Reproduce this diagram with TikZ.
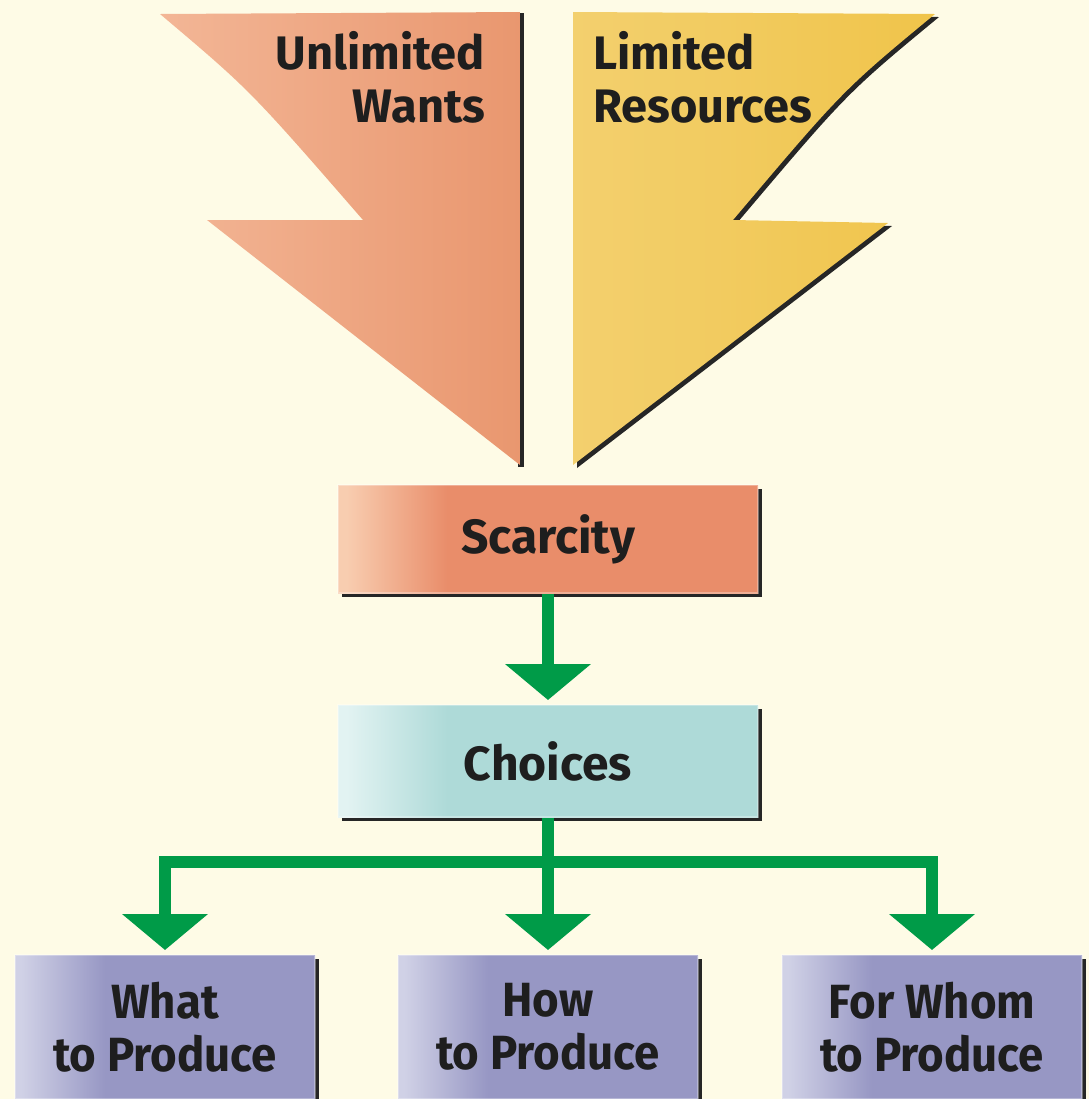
\documentclass[tikz,border=0pt]{standalone}
\usepackage{fontspec}
\setmainfont{Fira Sans}
\newfontfamily\narrowfont[FakeStretch=0.95]{Fira Sans}
\usetikzlibrary{arrows.meta,shadows}

\definecolor{paper}{HTML}{FEFBE6}
\definecolor{wantsLight}{HTML}{F3B696}
\definecolor{wantsBase}{HTML}{E9976F}
\definecolor{resBase}{HTML}{F0C44A}
\definecolor{scarLight}{HTML}{F8CDB0}
\definecolor{scarBase}{HTML}{E98D6A}
\definecolor{choiceLight}{HTML}{E2F3F2}
\definecolor{choiceBase}{HTML}{AEDAD8}
\definecolor{qLight}{HTML}{D0D1E6}
\definecolor{qBase}{HTML}{9797C4}
\definecolor{flowgreen}{HTML}{009B48}
\definecolor{ink}{HTML}{1E1E1E}

% the path covers 25bp to 75bp of each shading
\pgfdeclarehorizontalshading{scarshade}{100bp}{color(0bp)=(scarLight); color(26bp)=(scarLight); color(38bp)=(scarBase); color(100bp)=(scarBase)}
\pgfdeclarehorizontalshading{choiceshade}{100bp}{color(0bp)=(choiceLight); color(26bp)=(choiceLight); color(38bp)=(choiceBase); color(100bp)=(choiceBase)}
\pgfdeclarehorizontalshading{qshade}{100bp}{color(0bp)=(qLight); color(26bp)=(qLight); color(40bp)=(qBase); color(100bp)=(qBase)}

\tikzset{
    box/.style={draw=white, draw opacity=0.3, line width=1pt, text=ink,
        font=\bfseries\fontsize{24}{26.5}\selectfont,
        minimum width=210pt, minimum height=54pt, align=center,
        drop shadow={opacity=1, fill=black!85, shadow xshift=2pt, shadow yshift=-2pt}},
    question/.style={box, font=\narrowfont\bfseries\fontsize{24}{26.5}\selectfont,
        minimum width=150pt, minimum height=72pt, shading=qshade},
    flow/.style={draw=flowgreen, line width=6pt, -{Triangle[width=42pt,length=18pt]}, shorten >=2pt},
    bigarrow/.style={font=\bfseries\fontsize{23.5}{26.5}\selectfont, text=ink},
}

\begin{document}
\begin{tikzpicture}[x=0.5pt,y=-0.5pt]
    \fill[paper] (0,0) rectangle (1089,1099);
    \useasboundingbox (0,0) rectangle (1089,1099);

    % the two big arrows
    \fill[black!85] (518,13) rectangle (524,467);
    \shade[left color=wantsLight, right color=wantsBase]
        (160,14) -- (520,12) -- (520,465) -- (207,220) -- (363,220)
        .. controls (250,90) .. cycle;
    \fill[black!85] (577,15) -- (939,17) .. controls (847,93) .. (737,223)
        -- (892,226) -- (577,468) -- cycle;
    \shade[left color=resBase!80!white, right color=resBase]
        (573,12) -- (935,14) .. controls (843,90) .. (733,220)
        -- (888,223) -- (573,465) -- cycle;

    \node[bigarrow, align=right, anchor=east] (wants) at (492,77) {Unlimited\\Wants};
    \node[bigarrow, align=left, anchor=west] (resources) at (586,77) {Limited\\Resources};

    \node[box, shading=scarshade] (scarcity) at (548,539) {Scarcity};
    \node[box, shading=choiceshade, minimum height=56pt] (choices) at (548,761) {Choices};

    \node[question] (what) at (165,1027) {What\\to Produce};
    \node[question] (how) at (548,1027) {How\\to Produce};
    \node[question] (whom) at (932,1027) {For Whom\\to Produce};

    \draw[flow] (scarcity) -- (choices);
    \coordinate (split) at (548,862);
    \draw[draw=flowgreen, line width=6pt] (choices.south) -- (split);
    \draw[flow] (split) -| (what.north);
    \draw[flow] (split) -- (how.north);
    \draw[flow] (split) -| (whom.north);
\end{tikzpicture}
\end{document}
